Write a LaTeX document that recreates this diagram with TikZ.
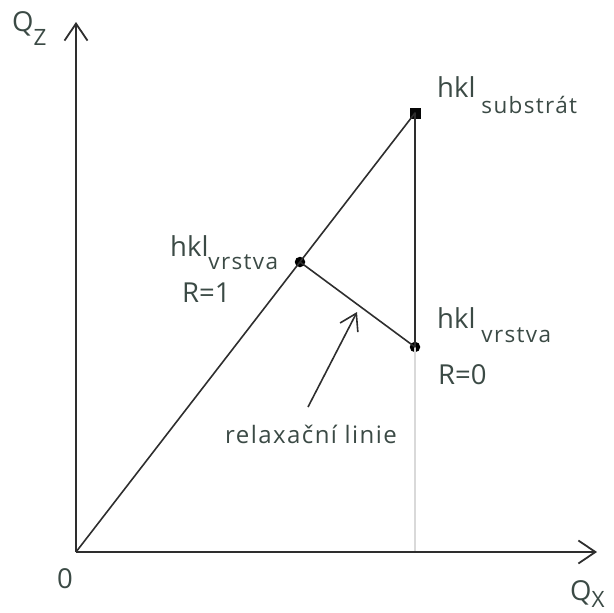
\documentclass[tikz,border=0pt]{standalone}
\usepackage{fontspec}
\setmainfont{Open Sans}
\usepackage{tikz}
\usetikzlibrary{
  arrows.meta,
  positioning
}
\definecolor{rlText}{HTML}{3B4A45}
\definecolor{rlLine}{HTML}{2E2E2E}
\definecolor{rlGuide}{HTML}{D9D9D9}
% lowered index text (drop, text)
\newcommand{\lowidx}[2]{\raisebox{-#1}{\fontsize{22.5}{26}\selectfont\addfontfeatures{LetterSpace=6}#2}}
\tikzset{
  axisline/.style={-{Straight Barb[length=17pt, width=23pt]}, line width=1.8pt, rlLine},
  relline/.style={line width=1.6pt, rlLine, line join=round},
  guideline/.style={line width=1.4pt, rlGuide},
  pointer/.style={-{Straight Barb[length=16pt, width=20pt]}, line width=1.6pt, rlLine},
  dotpt/.style={circle, fill=black, inner sep=0pt, minimum size=10.5pt},
  sqpt/.style={rectangle, fill=black!90!rlText, inner sep=0pt, minimum size=11pt},
  lbl/.style={anchor=base west, inner sep=0pt, text=rlText, font=\fontsize{27.5}{32}\selectfont},
  smalllbl/.style={lbl, font=\fontsize{24}{28}\selectfont\addfontfeatures{LetterSpace=6}}
}
\begin{document}
\begin{tikzpicture}[x=1pt, y=-1pt]
  \useasboundingbox (0,0) rectangle (614,613);
  % axes
  \coordinate (o) at (76,552);
  \coordinate (zend) at (76,22);
  \coordinate (xend) at (597,552);
  \coordinate (xfoot) at (415,552);
  % points
  \node[sqpt] (sub) at (415,113) {};
  \node[dotpt] (lay1) at (300,262) {};
  \node[dotpt] (lay0) at (415,347) {};
  \draw[guideline] (lay0.center) -- (xfoot);
  \draw[axisline] (o) -- (zend);
  \draw[axisline] (o) -- (xend);
  \draw[relline] (o) -- (sub.center) -- (lay0.center) -- (lay1.center);
  % labels
  \node[lbl] (qz) at (12,31) {Q\lowidx{14pt}{Z}};
  \node[lbl] (qx) at (570,600) {Q\lowidx{7pt}{X}};
  \node[lbl] (zero) at (57,588) {0};
  \node[lbl] (hsub) at (437,97) {hkl\hspace{6pt}\lowidx{16pt}{substrát}};
  \node[lbl] (hlay1) at (170,256) {hkl\lowidx{13pt}{vrstva}};
  \node[lbl] (rone) at (182,302) {R=1};
  \node[lbl] (hlay0) at (437,328) {hkl\hspace{6pt}\lowidx{14pt}{vrstva}};
  \node[lbl] (rzero) at (438,384) {R=0};
  \node[smalllbl] (rellbl) at (225,443) {relaxační linie};
  \coordinate (tail) at (308,407);
  \coordinate (aim) at (357,312);
  \draw[pointer] (tail) -- (aim);
\end{tikzpicture}
\end{document}
